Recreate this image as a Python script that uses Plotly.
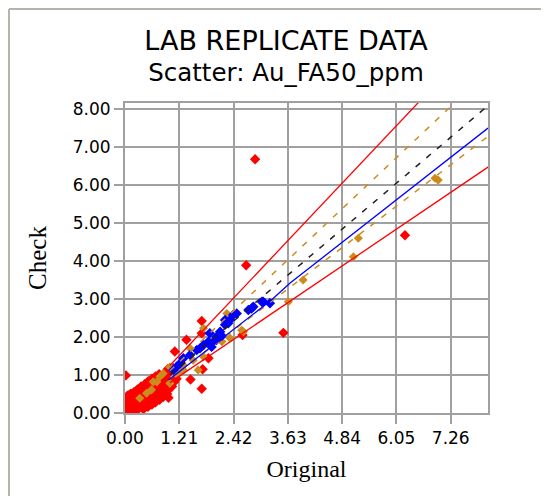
import plotly.graph_objects as go

# ---------------- data ----------------
x_tickvals = [0.00, 1.21, 2.42, 3.63, 4.84, 6.05, 7.26]
x_ticktext = ["0.00", "1.21", "2.42", "3.63", "4.84", "6.05", "7.26"]
y_tickvals = [0, 1, 2, 3, 4, 5, 6, 7, 8]
y_ticktext = ["0.00", "1.00", "2.00", "3.00", "4.00", "5.00", "6.00", "7.00", "8.00"]

# red: failed pairs (outside +/-20%) and low-level cloud
red_x = [0.00, 0.00, 0.01, 0.02, 0.03, 0.04, 0.05, 0.06, 0.07, 0.08, 0.10, 0.10, 0.12, 0.14,
         0.15, 0.17, 0.18, 0.20, 0.22, 0.23, 0.25, 0.26, 0.28, 0.30, 0.31, 0.33, 0.35, 0.36,
         0.38, 0.40, 0.41, 0.43, 0.45, 0.46, 0.48, 0.50, 0.51, 0.53, 0.55, 0.57, 0.58, 0.60,
         0.62, 0.63, 0.65, 0.67, 0.68, 0.70, 0.72, 0.74, 0.75, 0.77, 0.79, 0.80, 0.82, 0.84,
         0.85, 0.87, 0.89, 0.90, 0.92, 0.94, 0.96, 0.98, 1.00, 1.02, 1.05, 0.05, 0.12, 0.20,
         0.28, 0.36, 0.44, 0.52, 0.60, 0.68, 0.76, 0.03, 0.09, 0.16, 1.10, 1.15, 0.95, 0.70,
         0.25, 0.34, 0.43, 0.55, 0.66, 0.78, 0.88, 0.15, 0.07, 0.02, 1.08, 0.97,
         2.90, 2.70, 3.53, 1.71, 1.37, 1.11, 0.02, 1.73, 1.46, 1.71, 2.62, 6.24, 1.71, 1.86]
red_y = [0.30, 0.10, 0.20, 0.05, 0.15, 0.00, 0.02, 0.25, 0.38, 0.10, 0.32, 0.04, 0.18, 0.08,
         0.36, 0.25, 0.03, 0.14, 0.42, 0.30, 0.08, 0.20, 0.48, 0.36, 0.12, 0.26, 0.52, 0.18,
         0.40, 0.30, 0.10, 0.58, 0.22, 0.45, 0.35, 0.62, 0.16, 0.28, 0.50, 0.70, 0.40, 0.22,
         0.58, 0.33, 0.78, 0.47, 0.28, 0.66, 0.40, 0.86, 0.55, 0.35, 0.75, 0.48, 0.93, 0.62,
         0.42, 0.80, 0.55, 1.00, 0.70, 0.50, 0.88, 0.62, 1.08, 0.80, 0.70, 0.45, 0.50, 0.55,
         0.62, 0.70, 0.76, 0.84, 0.90, 0.96, 1.02, 0.40, 0.44, 0.50, 0.82, 0.90, 1.15, 0.95,
         0.58, 0.64, 0.70, 0.80, 0.88, 0.98, 1.05, 0.48, 0.46, 0.36, 1.18, 0.40,
         6.68, 3.89, 2.11, 2.42, 1.93, 1.62, 0.99, 1.15, 0.88, 0.64, 2.05, 4.68, 2.10, 1.44]

# orange: pairs within +/-20% but outside +/-10%
orange_x = [6.98, 6.91, 5.20, 5.09, 3.97, 3.64, 2.60, 2.27, 2.34, 2.64, 2.16, 1.75, 1.45,
            1.75, 1.52, 1.30, 0.78, 0.71, 1.63, 1.00, 1.30, 0.33, 0.48, 0.59, 0.63,
            0.85, 1.00, 1.15, 1.22]
orange_y = [6.13, 6.18, 4.60, 4.11, 3.50, 2.93, 2.18, 2.62, 1.97, 2.14, 1.88, 2.23, 1.70,
            1.48, 1.39, 1.26, 0.96, 0.82, 1.13, 0.78, 1.13, 0.39, 0.52, 0.61, 0.82,
            1.04, 1.21, 1.02, 1.10]

# blue: pairs within +/-10%
blue_x = [3.05, 2.86, 2.75, 3.23, 2.41, 2.34, 2.23, 2.12, 2.04, 1.97, 1.86, 1.75, 1.60,
          1.45, 1.30, 1.23, 1.15, 1.08, 2.04, 2.23, 1.93, 2.16, 2.49, 1.89, 1.67, 3.08,
          2.82, 2.30]
blue_y = [2.93, 2.80, 2.71, 2.89, 2.58, 2.45, 2.32, 2.14, 2.01, 1.88, 1.88, 1.79, 1.66,
          1.53, 1.44, 1.31, 1.22, 1.13, 1.92, 2.45, 1.74, 2.03, 2.62, 2.10, 1.70, 2.93,
          2.75, 2.36]

# fitted trend line (blue)
trend_x = [0.97, 3.27, 3.68, 8.09]
trend_y = [0.87, 2.98, 3.42, 7.50]

# reference lines: ratio of Check to Original
ratio_red = [1.25, 0.80]
ratio_orange = [1.0 / 0.9, 0.90]
ratio_black = [1.0]
ref_x = [1.0, 8.2]

# ---------------- figure ----------------
# the page body has an 8px margin, so the figure is laid out 8px in from the window
OFF = 8
W, H = 549 - OFF, 496 - OFF
L, R, T, B = 125 - OFF, 61, 103 - OFF, 83
X_RANGE = [0, 8.09]
Y_RANGE = [0, 8.16]

RED = "#ff0000"
ORANGE = "#cc8c1c"
BLUE = "#0000ff"
GRID = "#a0a0a0"

fig = go.Figure()

fig.add_trace(go.Scatter(x=red_x, y=red_y, mode="markers",
                         marker=dict(color=RED, symbol="diamond", size=8, line=dict(width=0)),
                         showlegend=False))
fig.add_trace(go.Scatter(x=orange_x, y=orange_y, mode="markers",
                         marker=dict(color=ORANGE, symbol="diamond", size=7, line=dict(width=0)),
                         showlegend=False))
fig.add_trace(go.Scatter(x=blue_x, y=blue_y, mode="markers",
                         marker=dict(color=BLUE, symbol="diamond", size=8, line=dict(width=0)),
                         showlegend=False))

for r in ratio_red:
    fig.add_trace(go.Scatter(x=ref_x, y=[r * v for v in ref_x], mode="lines",
                             line=dict(color=RED, width=1.3), showlegend=False))
for r in ratio_orange:
    fig.add_trace(go.Scatter(x=ref_x, y=[r * v for v in ref_x], mode="lines",
                             line=dict(color=ORANGE, width=1.5, dash="6px,8px"),
                             showlegend=False))
for r in ratio_black:
    fig.add_trace(go.Scatter(x=ref_x, y=[r * v for v in ref_x], mode="lines",
                             line=dict(color="#202020", width=1.5, dash="6px,8px"),
                             showlegend=False))
fig.add_trace(go.Scatter(x=trend_x, y=trend_y, mode="lines",
                         line=dict(color=BLUE, width=1.3), showlegend=False))

axis_common = dict(showgrid=True, gridcolor=GRID, gridwidth=2, zeroline=False,
                   showline=True, linecolor=GRID, linewidth=2, mirror=True,
                   ticks="outside", ticklen=9, tickcolor=GRID, tickwidth=2,
                   tickfont=dict(family="DejaVu Sans", size=17, color="#000000"))

fig.update_xaxes(range=X_RANGE, tickvals=x_tickvals, ticktext=x_ticktext,
                 title=dict(text="Original", standoff=13,
                            font=dict(family="Liberation Serif", size=24, color="#000")),
                 **axis_common)
fig.update_yaxes(range=Y_RANGE, tickvals=y_tickvals, ticktext=y_ticktext,
                 title=dict(text="Check", standoff=19,
                            font=dict(family="Liberation Serif", size=25, color="#000")),
                 **axis_common)

# outer window frame (left and top edges)
pw, ph = W - L - R, H - T - B
def px_x(p):
    return (p - L) / pw
def px_y(p):
    return (H - B - p) / ph

fig.add_shape(type="line", xref="paper", yref="paper",
              x0=px_x(1), x1=px_x(1), y0=px_y(1), y1=px_y(H + 5),
              line=dict(color="#b4b4a8", width=2))
fig.add_shape(type="line", xref="paper", yref="paper",
              x0=px_x(1), x1=px_x(W + 5), y0=px_y(1), y1=px_y(1),
              line=dict(color="#b4b4a8", width=2))

fig.update_layout(
    width=W, height=H,
    margin=dict(l=L, r=R, t=T, b=B),
    paper_bgcolor="#ffffff", plot_bgcolor="#ffffff",
    title=dict(text="<span style='font-size:27px'>LAB REPLICATE DATA</span><br>"
                    "<span style='font-size:24.5px'>Scatter: Au_FA50_ppm</span>",
               x=(286 - OFF) / W, xanchor="center", y=1 - 41.5 / H, yanchor="middle",
               font=dict(family="DejaVu Sans", size=24, color="#000000")),
)

fig.write_html("out.html")
